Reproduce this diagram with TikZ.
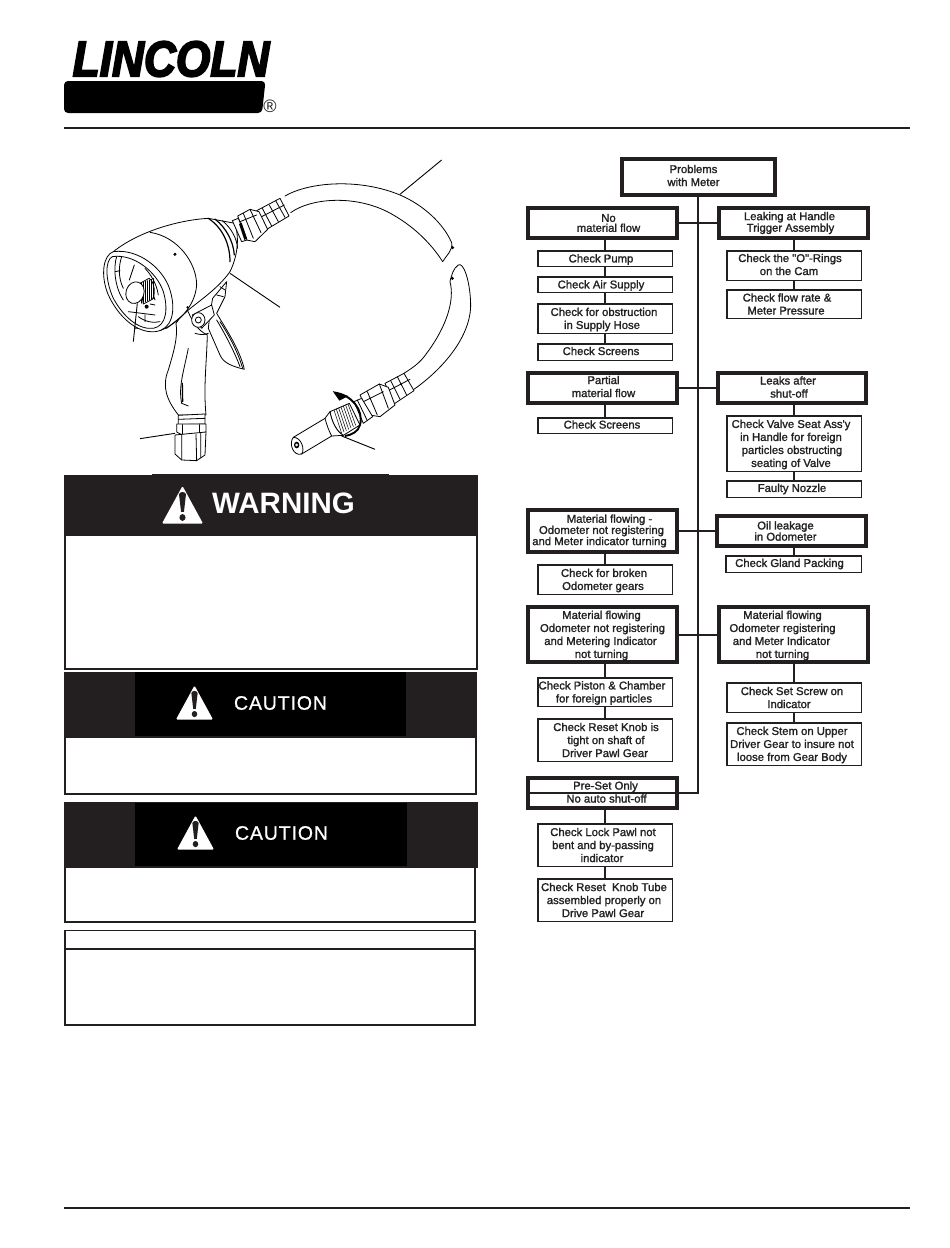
\documentclass[tikz,border=0pt]{standalone}
\usepackage{fontspec}
\setmainfont{Liberation Sans}
\definecolor{dk}{HTML}{231F20}
\definecolor{txt}{HTML}{222222}
\def\tdy{0}
\tikzset{
  bigstyle/.style={draw=dk,line width=3.6pt,fill=white,inner sep=0pt,align=center,text=txt,font=\fsz},
  chkstyle/.style={draw=dk,line width=1.5pt,fill=white,inner sep=0pt,align=center,text=txt,font=\fsz},
  tight/.style={font=\fszt},
  tighter/.style={font=\fsztt},
  lift/.code={\def\tdy{#1}},
  conn/.style={draw=dk,line width=2pt},
  gun/.style={draw=black,line width=0.8pt,line join=round,line cap=round},
  gunfill/.style={gun,fill=white},
  leader/.style={draw=black,line width=0.9pt},
  frame/.style={draw=dk,line width=1.6pt,fill=white},
  zoomed/.style={shift={#1},x=.3333pt,y=-.3333pt},
}
\newfontfamily\flowfont[FakeBold=1.5]{Liberation Sans}
\newcommand\fsz{\flowfont\fontsize{11.3}{13}\selectfont}
\newcommand\fszt{\flowfont\fontsize{11.3}{11.2}\selectfont}
\newcommand\fsztt{\flowfont\fontsize{11.3}{10}\selectfont}
\newcommand\linex[2]{\makebox[0pt][c]{\kern #1pt\kern #1pt \raisebox{\tdy pt}[\height][\depth]{#2}}}
\newcommand\bigbx[7][]{\node[bigstyle,#1,minimum width={(#5-#3-3.6)*1pt},minimum height={(#6-#4-3.6)*1pt}] (#2) at ({(#3+#5)/2},{(#4+#6)/2}) {#7};}
\newcommand\chkbx[7][]{\node[chkstyle,#1,minimum width={(#5-#3-1.5)*1pt},minimum height={(#6-#4-1.5)*1pt}] (#2) at ({(#3+#5)/2},{(#4+#6)/2}) {#7};}
\newcommand\trisym[4]{%
  \begin{scope}[shift={(#1,#2)},x=#3pt,y=#4pt]
    \fill[white,rounded corners=1.2pt] (-.5,0) -- (0,1) -- (.5,0) -- cycle;
    \fill[dk] (-.085,.78) .. controls (-.06,.86) and (.06,.86) .. (.085,.78) -- (.035,.31) -- (-.035,.31) -- cycle;
    \fill[dk] (0,.16) ellipse [x radius=.075,y radius=.09];
  \end{scope}}
\begin{document}
\begin{tikzpicture}[x=1pt,y=-1pt]
\useasboundingbox (0,0) rectangle (950,1248);
\fill[white] (0,0) rectangle (950,1248);

% rules
\draw[dk,line width=2pt] (64,127.5) -- (910,127.5);
\draw[dk,line width=2pt] (64,1208) -- (910,1208);

% logo
\fill[black,rounded corners=4pt] (64,81) -- (265.5,81) -- (262,113) -- (64,113) -- cycle;
\node[inner sep=0pt,text=black,anchor=center,xscale=.885] (logo) at (171,59) {\fontsize{50}{50}\bfseries\itshape\addfontfeature{FakeBold=4}LINCOLN};
\node[inner sep=0pt,text=dk] (reg) at (270,106) {\fontsize{18}{18}\selectfont ®};

% hose and grip, coordinates of a 3x crop from (50,20)
\begin{scope}[zoomed={(50,20)}]
  \draw[gun] (705,528) .. controls (780,485) and (930,475) .. (1050,525) .. controls (1120,555) and (1180,610) .. (1205,668);
  \draw[gun] (722,578) .. controls (790,530) and (930,525) .. (1030,585) .. controls (1100,625) and (1150,680) .. (1178,725);
  \draw[gun] (1205,668) .. controls (1210,690) and (1190,705) .. (1178,725);
  \fill[black] (1208,683) circle [radius=5];
  \draw[gun] (1092,1108) .. controls (1175,1050) and (1265,950) .. (1262,850) .. controls (1260,780) and (1240,725) .. (1225,735) .. controls (1210,745) and (1205,765) .. (1200,785) .. controls (1215,840) and (1190,920) .. (1130,1000) .. controls (1110,1030) and (1085,1045) .. (1062,1060);
  \fill[black] (1207,775) circle [radius=5];
  % trigger
  \draw[gunfill] (488,835) -- (530,785) -- (525,830) -- (500,880) .. controls (530,930) and (570,990) .. (583,1048) .. controls (550,1040) and (520,1030) .. (510,1005) -- (475,925) -- (480,880) -- cycle;
  \draw[gun] (510,905) .. controls (540,950) and (565,1000) .. (578,1045);
  \draw[gun] (500,900) .. controls (530,950) and (555,1000) .. (570,1040);
  \draw[gun] (510,800) -- (525,810) (500,825) -- (520,830);
  % grip
  \draw[gunfill] (378,910) .. controls (385,950) and (370,1000) .. (355,1050) .. controls (335,1100) and (350,1140) .. (385,1185) -- (468,1185) .. controls (460,1100) and (470,1030) .. (472,945) .. controls (440,930) and (425,900) .. (410,865) -- cycle;
  \draw[gun] (415,985) .. controls (400,1060) and (385,1100) .. (395,1150) -- (415,1158);
  \draw[gun,line width=1.3pt] (397,1090) -- (398,1145);
  \draw[gun] (435,940) .. controls (450,945) and (465,945) .. (475,940);
\end{scope}

% head, coordinates of a 3x crop from (95,200)
\begin{scope}[zoomed={(95,200)}]
  \draw[gunfill] (55,155) .. controls (130,95) and (250,60) .. (340,55) -- (420,70) .. controls (435,120) and (425,175) .. (405,215) .. controls (370,265) and (310,305) .. (280,330) .. controls (260,350) and (240,365) .. (215,385) -- (120,385) -- cycle;
  \draw[gun] (165,97) .. controls (250,110) and (305,190) .. (305,255) .. controls (300,320) and (250,370) .. (195,392);
  % neck rings
  \draw[gun,line width=1.2pt] (340,55) .. controls (385,85) and (405,135) .. (405,185);
  \draw[gun,line width=1.2pt] (360,57) .. controls (395,85) and (415,125) .. (418,165);
  \draw[gun] (382,62) .. controls (410,85) and (425,115) .. (428,145);
  \fill[black] (240,163) circle [radius=5];
  \fill[black] (278,322) circle [radius=4];
  % front rim
  \draw[gunfill] (55,155) .. controls (25,165) and (15,225) .. (40,285) .. controls (70,350) and (125,400) .. (180,395) .. controls (230,390) and (245,335) .. (225,270) .. controls (205,205) and (130,145) .. (55,155) -- cycle;
  \draw[gun] (52,170) .. controls (30,180) and (30,240) .. (55,295) .. controls (85,350) and (130,390) .. (175,385) .. controls (215,378) and (220,325) .. (205,275) .. controls (185,215) and (115,160) .. (52,170) -- cycle;
  % inside
  \draw[gun] (65,170) .. controls (55,200) and (58,260) .. (85,300);
  \draw[gun] (80,170) .. controls (70,200) and (70,235) .. (85,265);
  \draw[gun] (118,195) -- (103,240) (150,205) .. controls (165,220) and (185,250) .. (190,285);
  \draw[gun] (60,215) -- (75,212) (100,335) -- (180,345) (130,350) .. controls (150,365) and (175,370) .. (195,365) (150,345) -- (150,365);
  \draw[gun] (175,285) -- (180,300) (165,312) -- (180,315);
  % knob
  \draw[gunfill] (135,250) -- (162,235) .. controls (180,245) and (182,285) .. (172,298) -- (145,312) -- cycle;
  \foreach \kx in {140,146,...,176} \draw[gun,line width=.5pt] (\kx,{248-(\kx-140)*.35}) -- (\kx,{310-(\kx-140)*.4});
  \draw[gunfill,rotate around={-18:(120,278)}] (120,278) ellipse [x radius=27,y radius=33];
  \fill[black] (155,320) circle [radius=6];
  % pivot
  \draw[gunfill] (292,345) -- (350,315) -- (358,345) -- (320,385) -- cycle;
  \draw[gunfill] (310,360) circle [x radius=20,y radius=22];
  \draw[gun] (310,360) circle [radius=9];
\end{scope}

% upper fitting, coordinates of a 3x crop from (225,190)
\begin{scope}[zoomed={(225,190)}]
  \draw[gunfill] (95,62) -- (165,25) -- (192,78) -- (122,120) -- cycle;
  \draw[gun] (112,55) -- (140,108) (133,45) -- (160,95) (152,32) -- (180,82) (100,85) -- (178,45);
  \draw[gunfill] (38,78) -- (75,58) -- (102,65) -- (128,118) -- (90,155) -- (65,150) -- cycle;
  \draw[gun] (55,70) -- (85,145) (75,58) -- (108,128) (45,95) -- (95,75);
  \draw[gunfill] (22,92) -- (40,85) -- (66,150) -- (50,155) -- cycle;
  \fill[black] (42,102) -- (50,98) -- (66,145) -- (58,150) -- cycle;
\end{scope}

% grip fitting, coordinates of a 3x crop from (140,330)
\begin{scope}[zoomed={(140,330)}]
  \draw[gunfill] (115,256) -- (195,252) -- (195,282) -- (115,284) -- cycle;
  \draw[gun] (115,268) -- (195,265);
  \draw[gunfill] (110,282) -- (198,282) -- (198,306) -- (178,314) -- (125,314) -- (110,306) -- cycle;
  \draw[gun] (128,284) -- (128,314) (178,284) -- (178,314);
  \draw[gunfill] (105,315) -- (198,306) -- (195,375) -- (170,392) -- (125,390) -- (105,372) -- cycle;
  \draw[gun] (125,314) -- (125,390) (168,312) -- (170,392) (182,310) -- (182,382);
  \draw[leader] (0,326) -- (105,310);
\end{scope}

% lower fitting, coordinates of a 3x crop from (280,360)
\begin{scope}[zoomed={(280,360)}]
  \draw[gunfill] (315,70) -- (372,40) -- (402,92) -- (342,132) -- cycle;
  \draw[gun] (332,62) -- (360,118) (352,50) -- (380,105) (325,92) -- (390,58);
  \draw[gunfill] (240,105) -- (298,72) -- (325,82) -- (345,135) -- (300,170) -- (268,165) -- cycle;
  \draw[gun] (262,95) -- (292,165) (298,72) -- (325,145) (250,125) -- (310,95);
  \draw[gunfill] (222,125) -- (245,115) -- (278,170) -- (250,190) -- cycle;
  \draw[gun] (232,120) -- (262,182);
  \draw[gunfill] (150,155) -- (208,130) -- (240,195) -- (190,226) .. controls (170,215) and (155,185) .. (150,155) -- cycle;
  \foreach \ki in {0,1,...,6} \draw[gun,line width=.5pt] ({162+\ki*7},{150-\ki*3}) -- ({185+\ki*7},{220-\ki*4});
  \draw[gunfill] (150,155) -- (135,175) -- (40,232) .. controls (25,250) and (40,290) .. (65,282) -- (155,228) -- (190,226) .. controls (170,215) and (155,185) .. (150,155) -- cycle;
  \draw[gun] (135,175) .. controls (140,195) and (148,215) .. (155,228);
  \draw[gun] (40,232) .. controls (65,232) and (75,270) .. (65,282);
  \fill[black] (50,255) ellipse [x radius=8,y radius=10];
  \draw[white,line width=.6pt] (50,255) circle [radius=3];
  \draw[black,line width=1.9pt] (165,98) .. controls (215,105) and (252,150) .. (240,195) .. controls (235,215) and (215,225) .. (195,228);
  \fill[black] (158,93) -- (205,108) -- (178,122) -- cycle;
  \draw[leader] (185,228) -- (285,268);
\end{scope}

% leaders, coordinates of a 3x crop from (50,20)
\begin{scope}[zoomed={(50,20)}]
  \coordinate (leadA) at (1175,420); \coordinate (leadAe) at (1050,523);
  \coordinate (leadB) at (540,760); \coordinate (leadBe) at (690,862);
  \coordinate (leadC) at (262,850); \coordinate (leadCe) at (250,965);
  \draw[leader] (leadA) -- (leadAe);
  \draw[leader] (leadB) -- (leadBe);
  \draw[leader] (leadC) -- (leadCe);
\end{scope}

% warning
\draw[frame] (65,535) rectangle (477,669);
\fill[dk] (64,475) rectangle (478,535);
\fill[dk] (152,474) rectangle (389,476);
\trisym{182.5}{523.5}{41}{37.5}
\node[inner sep=0pt,text=white] (warn) at (283.5,503) {\fontsize{29.5}{30}\bfseries\selectfont WARNING};

% caution 1
\draw[frame] (65,737) rectangle (476,794);
\fill[dk] (64,672) rectangle (477,738);
\fill[black] (135,672) rectangle (406,736);
\trisym{194.5}{719.5}{37}{34}
\node[inner sep=0pt,text=white] (cautionA) at (280.5,703) {\fontsize{19.5}{20}\selectfont\addfontfeature{LetterSpace=4.5,FakeBold=0.9}CAUTION};

% caution 2
\draw[frame] (65,867) rectangle (475,922);
\fill[dk] (64,802) rectangle (478,867.5);
\fill[black] (135,803) rectangle (407,866);
\trisym{195.5}{849.5}{37}{34}
\node[inner sep=0pt,text=white] (cautionB) at (281.5,833) {\fontsize{19.5}{20}\selectfont\addfontfeature{LetterSpace=4.5,FakeBold=0.9}CAUTION};

% note
\draw[frame] (65,930.5) rectangle (475,1025);
\draw[dk,line width=1.6pt] (65,949) -- (475,949);

% flow chart coordinates
\coordinate (spine) at (698,0);
\coordinate (lstem) at (605,0);
\coordinate (rstem) at (794,0);

\bigbx[lift=1.5]{prob}{620}{157}{777}{197}{\linex{-5}{Problems}\\\linex{-5}{with Meter}}
\bigbx[tighter]{nomat}{526}{206}{679}{240}{\linex{6}{No}\\\linex{6}{material flow}}
\bigbx[tighter]{leak}{717}{206}{870}{240}{\linex{-4}{Leaking at Handle}\\\linex{-3}{Trigger Assembly}}
\chkbx[lift=-1]{pump}{537}{250}{673}{267}{\linex{-4}{Check Pump}}
\chkbx[lift=-1]{air}{537}{276}{673}{293}{\linex{-4}{Check Air Supply}}
\chkbx[lift=-1]{obst}{537}{303}{673}{334}{\linex{-1}{Check for obstruction}\\\linex{-3}{in Supply Hose}}
\chkbx[lift=1]{scrA}{537}{343}{673}{361}{\linex{-4}{Check Screens}}
\chkbx[lift=1]{orings}{726}{250}{862}{281}{\linex{-4}{Check the "O"-Rings}\\\linex{-5}{on the Cam}}
\chkbx{rate}{726}{289}{862}{319}{\linex{-7}{Check flow rate \&}\\\linex{-8}{Meter Pressure}}
\bigbx[lift=1.5]{partial}{526}{371}{679}{405}{\linex{1}{Partial}\\\linex{1}{material flow}}
\bigbx[lift=1]{leaks}{716}{371}{868}{405}{\linex{-4}{Leaks after}\\\linex{-3}{shut-off}}
\chkbx[lift=1]{scrB}{537}{417}{673}{434}{\linex{-3}{Check Screens}}
\chkbx[lift=-1]{valve}{726}{415}{862}{472}{\linex{-3}{Check Valve Seat Ass'y}\\\linex{-3}{in Handle for foreign}\\\linex{-2}{particles obstructing}\\\linex{-3}{seating of Valve}}
\chkbx{nozzle}{726}{480}{862}{498}{\linex{-2}{Faulty Nozzle}}
\bigbx[tight]{flowA}{526}{508}{679}{554}{\linex{7}{Material flowing -}\\\linex{-1}{Odometer not registering}\\\linex{-3}{and Meter indicator turning}}
\bigbx[tight]{oil}{715}{514}{868}{548}{\linex{-6}{Oil leakage}\\\linex{-6}{in Odometer}}
\chkbx{gland}{725}{555}{862}{573}{\linex{-4}{Check Gland Packing}}
\chkbx[lift=-1]{broken}{537}{564}{673}{595}{\linex{-1}{Check for broken}\\\linex{-2}{Odometer gears}}
\bigbx[lift=-1]{flowB}{526}{605}{679}{664}{\linex{-1}{Material flowing}\\\linex{0}{Odometer not registering}\\\linex{-2}{and Metering Indicator}\\\linex{-1}{not turning}}
\bigbx[lift=-1]{flowC}{717}{605}{870}{664}{\linex{-11}{Material flowing}\\\linex{-11}{Odometer registering}\\\linex{-12}{and Meter Indicator}\\\linex{-11}{not turning}}
\chkbx[lift=-1]{piston}{537}{677}{673}{707}{\linex{-3}{Check Piston \& Chamber}\\\linex{-1}{for foreign particles}}
\chkbx{reset}{537}{718}{673}{762}{\linex{1}{Check Reset Knob is}\\\linex{1}{tight on shaft of}\\\linex{0}{Driver Pawl Gear}}
\chkbx{screw}{726}{682}{862}{713}{\linex{-2}{Check Set Screw on}\\\linex{-5}{Indicator}}
\chkbx[lift=-1]{stem}{726}{722}{862}{766}{\linex{-2}{Check Stem on Upper}\\\linex{-2}{Driver Gear to insure not}\\\linex{-2}{loose from Gear Body}}
\bigbx[lift=1]{preset}{526}{776}{679}{810}{\linex{3}{Pre-Set Only}\\\linex{4}{No auto shut-off}}
\chkbx{lock}{537}{823}{673}{867}{\linex{-2}{Check Lock Pawl not}\\\linex{-2}{bent and by-passing}\\\linex{-3}{indicator}}
\chkbx{tube}{537}{878}{673}{922}{\linex{-1}{Check Reset\ \ Knob Tube}\\\linex{-1}{assembled properly on}\\\linex{-2}{Drive Pawl Gear}}

\draw[conn] (prob.south -| spine) -- (spine |- preset.east) -- (preset.east);
\draw[dk,line width=1.2pt] (preset.west) -- (preset.east);
\foreach \pa/\pb in {nomat/leak,partial/leaks,flowA/oil,flowB/flowC}
  \draw[conn] (\pa.east) -- (\pb.west);
\foreach \pa/\pb in {nomat/pump,pump/air,air/obst,obst/scrA,partial/scrB,flowA/broken,flowB/piston,piston/reset,preset/lock,lock/tube}
  \draw[conn] (\pa.south -| lstem) -- (\pb.north -| lstem);
\foreach \pa/\pb in {leak/orings,orings/rate,leaks/valve,valve/nozzle,oil/gland,flowC/screw,screw/stem}
  \draw[conn] (\pa.south -| rstem) -- (\pb.north -| rstem);
\end{tikzpicture}
\end{document}
